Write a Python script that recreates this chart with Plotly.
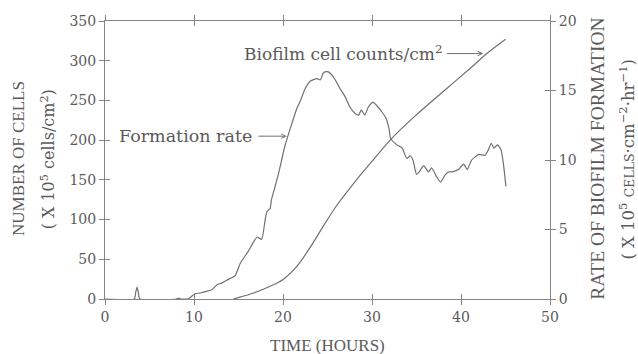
import plotly.graph_objects as go

# ---- data ----
rate_hours = [0, 3.3, 3.45, 3.6, 3.75, 3.9, 8.0, 8.25, 8.5, 9.35, 9.8, 10.1, 10.7, 11.4, 12.0,
              12.6, 13.1, 13.9, 14.6, 15.2, 15.6, 16.1, 16.7, 17.1, 17.6, 18.0, 18.2, 18.55,
              18.7, 19.1, 19.5, 20.2, 21.0, 21.55, 21.9, 22.5, 23.05, 23.8, 24.2, 24.5, 24.7,
              25.1, 25.5, 25.9, 26.4, 27.0, 27.5, 28.1, 28.5, 28.8, 29.2, 29.6, 30.1, 30.5,
              31.1, 31.6, 31.9, 32.1, 32.8, 33.4, 33.9, 34.3, 34.6, 35.0, 35.3, 35.8, 36.35,
              36.7, 37.2, 37.7, 38.2, 38.6, 39.0, 39.7, 40.3, 40.7, 41.2, 42.0, 42.7, 43.0,
              43.4, 43.7, 44.1, 44.5, 44.8, 45.05]
rate_values = [0, 0, 0.46, 0.86, 0.46, 0, 0, 0.07, 0, 0, 0.23, 0.38, 0.43, 0.55, 0.67,
               1.03, 1.14, 1.43, 1.66, 2.57, 2.97, 3.43, 4.11, 4.46, 4.29, 5.71, 6.29, 6.51,
               7.14, 8.06, 9.03, 10.97, 12.63, 13.71, 14.17, 15.14, 15.66, 15.86, 15.77, 16.23, 16.34,
               16.34, 16.11, 15.74, 15.14, 14.54, 13.83, 13.35, 13.23, 13.6, 13.23, 13.83, 14.17, 13.94,
               13.47, 12.97, 12.29, 11.54, 11.09, 10.86, 10.11, 10.29, 10.0, 8.97, 9.14, 9.6, 9.14,
               9.43, 8.86, 8.4, 8.91, 9.14, 9.14, 9.31, 9.71, 9.31, 10.0, 10.4, 10.34, 10.63,
               11.2, 10.86, 11.09, 10.74, 9.54, 8.09]

count_hours = [14.4, 14.8, 16.7, 18.55, 20.05, 21.55, 23.05, 24.55, 26.05, 27.9, 29.9, 32.2,
               34.7, 38.4, 41.4, 42.9, 45.0]
count_values = [0, 1.2, 7.5, 16, 25, 41, 65, 92, 118, 145, 172, 202,
                229, 265, 294, 309, 327]

x_ticks = [0, 10, 20, 30, 40, 50]
left_ticks = [0, 50, 100, 150, 200, 250, 300, 350]
right_ticks = [0, 5, 10, 15, 20]

LINE = "#707070"
AX = "#858585"
TXT = "#5a5a5a"
SERIF = "DejaVu Serif"
TIMES = "Liberation Serif"

fig = go.Figure()
fig.add_trace(go.Scatter(x=count_hours, y=count_values, mode="lines",
                         line=dict(color=LINE, width=1.2, shape="spline", smoothing=1.0),
                         xaxis="x", yaxis="y", showlegend=False, hoverinfo="skip"))
fig.add_trace(go.Scatter(x=rate_hours, y=rate_values, mode="lines",
                         line=dict(color=LINE, width=1.2, shape="spline", smoothing=0.5),
                         xaxis="x", yaxis="y2", showlegend=False, hoverinfo="skip"))
# carriers for the inner tick marks
fig.add_trace(go.Scatter(x=[], y=[], xaxis="x2", yaxis="y3", showlegend=False, hoverinfo="skip"))
fig.add_trace(go.Scatter(x=[], y=[], xaxis="x2", yaxis="y4", showlegend=False, hoverinfo="skip"))

common = dict(showgrid=False, zeroline=False, linecolor=AX, tickcolor=AX, linewidth=1,
              tickwidth=1, ticklen=5)

fig.update_layout(
    width=638, height=354,
    margin=dict(l=105, r=88, t=21, b=55),
    paper_bgcolor="white", plot_bgcolor="white",
    font=dict(family=SERIF, color=TXT, size=14),
    xaxis=dict(range=[0, 50], tickvals=x_ticks, ticks="outside", showline=True, mirror="ticks",
               tickfont=dict(family=SERIF, size=14, color=TXT), **common),
    xaxis2=dict(range=[0, 50], tickvals=x_ticks, ticks="inside", showline=False, mirror="ticks",
                overlaying="x", showticklabels=False, **common),
    yaxis=dict(range=[0, 350], tickvals=left_ticks, ticks="outside", showline=True,
               tickfont=dict(family=SERIF, size=14, color=TXT), **common),
    yaxis2=dict(range=[0, 20], tickvals=right_ticks, ticks="outside", showline=True, side="right",
                overlaying="y", tickfont=dict(family=SERIF, size=14, color=TXT), **common),
    yaxis3=dict(range=[0, 350], tickvals=left_ticks, ticks="inside", showline=False, side="left",
                overlaying="y", showticklabels=False, anchor="x2", **common),
    yaxis4=dict(range=[0, 20], tickvals=right_ticks, ticks="inside", showline=False, side="right",
                overlaying="y", showticklabels=False, anchor="x2", **common),
)

annotations = [
    dict(text="NUMBER OF CELLS", x=-0.193, y=0.504, xref="paper", yref="paper",
         textangle=-90, showarrow=False, xanchor="center", yanchor="middle",
         font=dict(family=TIMES, size=17, color=TXT)),
    dict(text="( X 10<sup>5</sup> cells/cm<sup>2</sup>)", x=-0.127, y=0.504, xref="paper", yref="paper",
         textangle=-90, showarrow=False, xanchor="center", yanchor="middle",
         font=dict(family=SERIF, size=16, color=TXT)),
    dict(text="RATE OF BIOFILM FORMATION", x=1.108, y=0.505, xref="paper", yref="paper",
         textangle=-90, showarrow=False, xanchor="center", yanchor="middle",
         font=dict(family=TIMES, size=19.5, color=TXT)),
    dict(text="( X 10<sup>5</sup> <span style='font-size:12.5px'>CELLS</span>·cm<sup>−2</sup>·hr<sup>−1</sup>)",
         x=1.173, y=0.505, xref="paper", yref="paper",
         textangle=-90, showarrow=False, xanchor="center", yanchor="middle",
         font=dict(family=SERIF, size=16.5, color=TXT)),
    dict(text="TIME (HOURS)", x=0.5, y=-0.168, xref="paper", yref="paper",
         showarrow=False, xanchor="center", yanchor="middle",
         font=dict(family=TIMES, size=17, color=TXT)),
    dict(text="Biofilm cell counts/cm<sup>2</sup>", x=0.307, y=0.885, xref="paper", yref="paper",
         showarrow=False, xanchor="left", yanchor="middle",
         font=dict(family=SERIF, size=17, color=TXT)),
    dict(text="", x=42.5, y=309, xref="x", yref="y", showarrow=True, ax=-38, ay=0,
         arrowhead=5, arrowsize=0.9, arrowwidth=1, arrowcolor=LINE),
    dict(text="Formation rate", x=0.027, y=0.586, xref="paper", yref="paper",
         showarrow=False, xanchor="left", yanchor="middle",
         font=dict(family=SERIF, size=17.5, color=TXT)),
    dict(text="", x=20.43, y=205, xref="x", yref="y", showarrow=True, ax=-30, ay=0,
         arrowhead=5, arrowsize=0.9, arrowwidth=1, arrowcolor=LINE),
]
fig.update_layout(annotations=annotations)

fig.write_html("out.html")
